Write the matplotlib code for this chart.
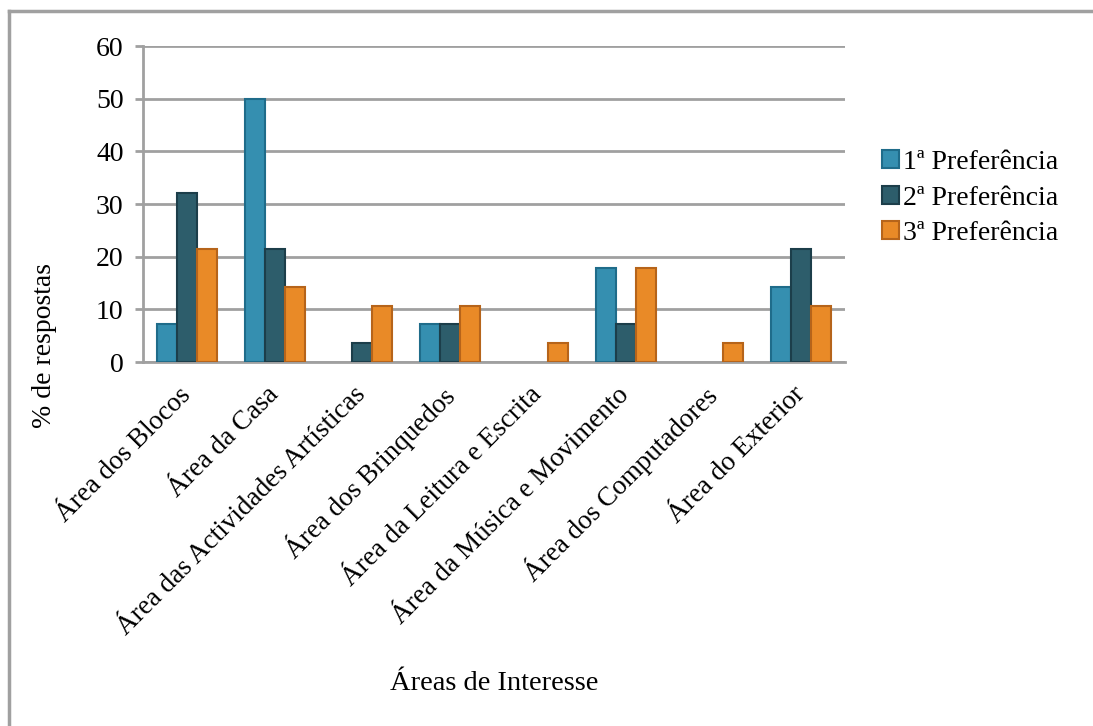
import numpy as np
import matplotlib
matplotlib.use("Agg")
import matplotlib.pyplot as plt
from matplotlib.lines import Line2D

plt.rcParams['font.family'] = ['Liberation Serif', 'DejaVu Serif']

# data (% of answers)
areas = ["Área dos Blocos", "Área da Casa", "Área das Actividades Artísticas",
         "Área dos Brinquedos", "Área da Leitura e Escrita",
         "Área da Música e Movimento", "Área dos Computadores", "Área do Exterior"]
series_names = ["1ª Preferência", "2ª Preferência", "3ª Preferência"]
pref1 = [7.14, 50.0, 0.0, 7.14, 0.0, 17.86, 0.0, 14.29]
pref2 = [32.14, 21.43, 3.57, 7.14, 0.0, 7.14, 0.0, 21.43]
pref3 = [21.43, 14.29, 10.71, 10.71, 3.57, 17.86, 3.57, 10.71]
y_ticks = [0, 10, 20, 30, 40, 50, 60]

fills = ["#358FB0", "#2D5D6B", "#E98A27"]
edges = ["#1F6C8A", "#1C3E4A", "#B6641A"]
grid_col = "#A0A0A0"

fig = plt.figure(figsize=(10.93, 7.26), dpi=100)
ax = fig.add_axes([143/1093, 1 - 362/726, (845-143)/1093, (362-46)/726])

x = np.arange(len(areas))
w = 0.227
for k, vals in enumerate([pref1, pref2, pref3]):
    lw = [1.5 if v > 0 else 0 for v in vals]
    ax.bar(x + (k - 1) * w, vals, width=w, color=fills[k], edgecolor=edges[k],
           linewidth=lw, zorder=3, label=series_names[k])

ax.set_xlim(-0.5, len(areas) - 0.5)
ax.set_ylim(0, 60)
ax.set_yticks(y_ticks)
ax.set_yticklabels([str(t) for t in y_ticks], fontsize=20)
ax.yaxis.grid(True, color=grid_col, linewidth=2)
ax.set_axisbelow(True)

ax.set_xticks(x)
ax.set_xticklabels(areas, rotation=45, ha='right', va='center',
                   rotation_mode='anchor', fontsize=19.5)
ax.tick_params(axis='x', length=0, pad=21)
ax.tick_params(axis='y', length=6, width=2, color=grid_col, pad=8)

for s in ['top', 'right']:
    ax.spines[s].set_visible(False)
for s in ['left', 'bottom']:
    ax.spines[s].set_color(grid_col)
    ax.spines[s].set_linewidth(2)

fig.text(494/1093, 1 - 683/726, "Áreas de Interesse", ha='center', va='center', fontsize=20.5)
fig.text(45/1093, 1 - 345/726, "% de respostas", ha='center', va='center',
         rotation=90, fontsize=20)

leg = ax.legend(loc='upper left', bbox_to_anchor=(882/1093, 1 - 150/726),
                bbox_transform=fig.transFigure, frameon=False, fontsize=20,
                handlelength=0.6, handleheight=0.6, handletextpad=0.15,
                labelspacing=0.38, borderaxespad=0, borderpad=0)

# outer chart border
fig.add_artist(Line2D([9/1093, 9/1093], [0, 1 - 11/726], transform=fig.transFigure,
                      color=grid_col, linewidth=2.5))
fig.add_artist(Line2D([9/1093, 1], [1 - 11/726, 1 - 11/726], transform=fig.transFigure,
                      color=grid_col, linewidth=2.5))

fig.savefig("out.png", dpi=100)
